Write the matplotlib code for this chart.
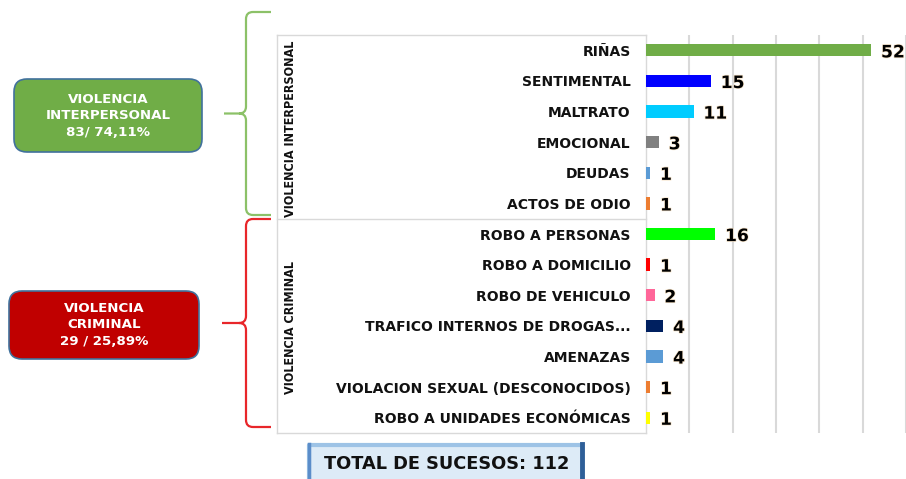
import matplotlib
matplotlib.use("Agg")
import matplotlib.pyplot as plt
from matplotlib.patches import FancyBboxPatch, Rectangle, PathPatch
from matplotlib.path import Path
import matplotlib.patheffects as pe
from matplotlib import font_manager as fm

# ---------------- data ----------------
categories = ["RIÑAS", "SENTIMENTAL", "MALTRATO", "EMOCIONAL", "DEUDAS", "ACTOS DE ODIO",
              "ROBO A PERSONAS", "ROBO A DOMICILIO", "ROBO DE VEHICULO",
              "TRAFICO INTERNOS DE DROGAS...", "AMENAZAS",
              "VIOLACION SEXUAL (DESCONOCIDOS)", "ROBO A UNIDADES ECONÓMICAS"]
values = [52, 15, 11, 3, 1, 1, 16, 1, 2, 4, 4, 1, 1]
bar_colors = ["#70AD47", "#0000FF", "#00CCFF", "#808080", "#5B9BD5", "#ED7D31",
              "#00FF00", "#FF0000", "#FF6699", "#002060", "#5B9BD5", "#ED7D31", "#FFFF00"]
group_names = ["VIOLENCIA INTERPERSONAL", "VIOLENCIA CRIMINAL"]
group_sizes = [6, 7]
group_box_text = ["VIOLENCIA\nINTERPERSONAL\n83/ 74,11%", "VIOLENCIA\nCRIMINAL\n29 / 25,89%"]
total_text = "TOTAL DE SUCESOS: 112"

FONT = "DejaVu Sans"

# pick a narrow font for the rotated group labels if one is installed
narrow_family, narrow_size, narrow_stretch = "Roboto", 8.5, "normal"
for fam, st in [("Liberation Sans Narrow", "normal"), ("DejaVu Sans", "condensed")]:
    try:
        p = fm.findfont(fm.FontProperties(family=fam, weight="bold", stretch=st),
                        fallback_to_default=False)
        if "Narrow" in p or "Condensed" in p:
            narrow_family, narrow_size, narrow_stretch = fam, 9.0, st
            break
    except Exception:
        pass

W, H = 906, 479
fig = plt.figure(figsize=(W / 100, H / 100), dpi=100)
fig.patch.set_facecolor("white")

ov = fig.add_axes([0, 0, 1, 1], zorder=0)
ov.set_xlim(0, W)
ov.set_ylim(0, H)
ov.axis("off")
def Y(y):
    return H - y

# ---------------- main bar axes ----------------
x0, x1, ytop, ybot = 646, 906, 35, 433
ax = fig.add_axes([x0 / W, (H - ybot) / H, (x1 - x0) / W, (ybot - ytop) / H], zorder=2)
ax.patch.set_alpha(0)
n = len(categories)
ypos = list(range(n))
ax.barh(ypos, values, color=bar_colors, height=0.4, zorder=3)
ax.set_xlim(0, 60)
ax.set_ylim(n - 0.5, -0.5)
ax.set_xticks([10, 20, 30, 40, 50, 60])
ax.set_xticklabels([])
ax.tick_params(axis="x", length=0)
ax.grid(axis="x", color="#D9D9D9", linewidth=1.5, zorder=0)
ax.set_yticks(ypos)
ax.set_yticklabels(categories, fontfamily=FONT, fontweight="bold", fontsize=10, color="#111111")
ax.tick_params(axis="y", length=0, pad=11)
for s in ["top", "right", "bottom"]:
    ax.spines[s].set_visible(False)
ax.spines["left"].set_color("#D9D9D9")
ax.spines["left"].set_linewidth(1.0)

for i, v in enumerate(values):
    ax.annotate(str(v), xy=(v, i), xytext=(7, -1.5), textcoords="offset points",
                va="center", ha="left", fontfamily=FONT, fontweight="bold", fontsize=12.3,
                color="black", annotation_clip=False, zorder=4,
                path_effects=[pe.withStroke(linewidth=1.0, foreground="#F6E3C8")])

# ---------------- label box ----------------
lx = 277
gray = "#D9D9D9"
ov.plot([lx, x0], [Y(ytop), Y(ytop)], color=gray, lw=1)
ov.plot([lx, x0], [Y(ybot), Y(ybot)], color=gray, lw=1)
ov.plot([lx, lx], [Y(ytop), Y(ybot)], color=gray, lw=1)
row_h = (ybot - ytop) / n
ysep = ytop + group_sizes[0] * row_h
ov.plot([lx, x0], [Y(ysep), Y(ysep)], color=gray, lw=1)

g1_mid = (ytop + ysep) / 2 + 2
g2_mid = (ysep + ybot) / 2 + 2
for txt, ym in [(group_names[0], g1_mid), (group_names[1], g2_mid)]:
    ov.text(290, Y(ym), txt, rotation=90, ha="center", va="center",
            fontfamily=narrow_family, fontstretch=narrow_stretch, fontweight="bold",
            fontsize=narrow_size, color="#111111")

# ---------------- braces ----------------
def brace(ytop_b, ybot_b, xv, xend, xtip, color):
    ymid = (ytop_b + ybot_b) / 2
    r = 7
    verts = [(xend, Y(ytop_b)), (xv + r, Y(ytop_b)),
             (xv, Y(ytop_b)), (xv, Y(ytop_b + r)),
             (xv, Y(ymid - r)),
             (xv, Y(ymid)), (xv - r, Y(ymid)),
             (xtip, Y(ymid)),
             (xv - r, Y(ymid)),
             (xv, Y(ymid)), (xv, Y(ymid + r)),
             (xv, Y(ybot_b - r)),
             (xv, Y(ybot_b)), (xv + r, Y(ybot_b)),
             (xend, Y(ybot_b))]
    codes = [Path.MOVETO, Path.LINETO,
             Path.CURVE3, Path.CURVE3,
             Path.LINETO,
             Path.CURVE3, Path.CURVE3,
             Path.LINETO,
             Path.MOVETO,
             Path.CURVE3, Path.CURVE3,
             Path.LINETO,
             Path.CURVE3, Path.CURVE3,
             Path.LINETO]
    ov.add_patch(PathPatch(Path(verts, codes), facecolor="none", edgecolor=color, lw=1.6))

brace(12, 215, 246, 271, 224, "#8CC168")
brace(219, 427, 246, 271, 222, "#E8262A")

# ---------------- group boxes ----------------
def group_box(xa, ya, xb, yb, fc, text):
    p = FancyBboxPatch((xa, Y(yb)), xb - xa, yb - ya,
                       boxstyle="round,pad=0,rounding_size=13",
                       facecolor=fc, edgecolor="#41719C", lw=1.2)
    ov.add_patch(p)
    ov.text((xa + xb) / 2, Y((ya + yb) / 2), text, ha="center", va="center",
            color="white", fontfamily=FONT, fontweight="bold", fontsize=9.6,
            linespacing=1.35)

group_box(14, 79, 202, 152, "#70AD47", group_box_text[0])
group_box(9, 291, 199, 359, "#C00000", group_box_text[1])

# ---------------- total box ----------------
tx0, ty0, tx1, ty1 = 308, 444, 583, 479
ov.add_patch(Rectangle((tx0, Y(ty1)), tx1 - tx0, ty1 - ty0, facecolor="#DDEBF7",
                       edgecolor="none"))
ov.plot([tx0 + 1, tx0 + 1, tx1 - 1], [Y(ty1), Y(ty0 + 1), Y(ty0 + 1)], color="#9DC3E6", lw=3)
ov.plot([tx1 - 1.5, tx1 - 1.5], [Y(ty0), Y(ty1)], color="#2E5F98", lw=3.5)
ov.plot([tx0 + 1, tx0 + 1], [Y(ty0), Y(ty1)], color="#5B8DC9", lw=2.5)
ov.text((tx0 + tx1) / 2 + 1, Y(464), total_text, ha="center", va="center",
        fontfamily=FONT, fontweight="bold", fontsize=12.8, color="#111111")

fig.savefig("out.png", dpi=100, facecolor="white")
